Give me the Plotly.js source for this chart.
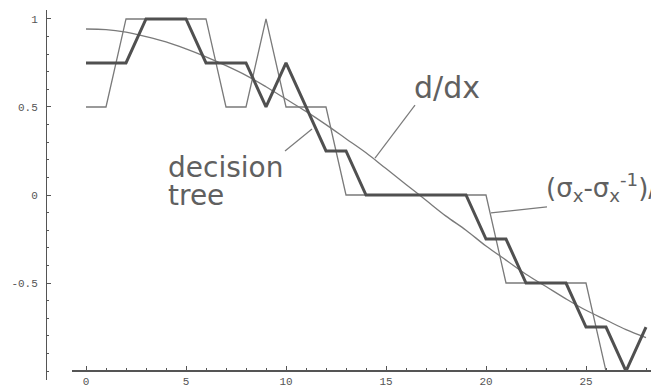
<!DOCTYPE html>
<html>
<head>
<meta charset="utf-8">
<script src="https://cdn.plot.ly/plotly-3.0.1.min.js"></script>
<style>html,body{margin:0;padding:0;background:#fff;}#chart{width:651px;height:389px;}</style>
</head>
<body>
<div id="chart"></div>
<script>
// sample positions
const xs = [0,1,2,3,4,5,6,7,8,9,10,11,12,13,14,15,16,17,18,19,20,21,22,23,24,25,26,27,28];
// decision tree output (thick)
const treeVals = [0.75,0.75,0.75,1,1,1,0.75,0.75,0.75,0.5,0.75,0.5,0.25,0.25,0,0,0,0,0,0,-0.25,-0.25,-0.5,-0.5,-0.5,-0.75,-0.75,-1,-0.75];
// (sigma_x - sigma_x^-1)/2 (thin stepped)
const sigmaVals = [0.5,0.5,1,1,1,1,1,0.5,0.5,1,0.5,0.5,0.5,0,0,0,0,0,0,0,0,-0.5,-0.5,-0.5,-0.5,-0.5,-1,-1,-1];
// d/dx (smooth)
const derivVals = [0.943,0.94,0.925,0.90,0.87,0.83,0.785,0.735,0.68,0.615,0.545,0.475,0.40,0.32,0.24,0.15,0.06,-0.03,-0.12,-0.20,-0.29,-0.37,-0.45,-0.52,-0.59,-0.655,-0.71,-0.765,-0.81];
// tick labels
const xTickVals = [0,5,10,15,20,25];
const xTickText = ["0","5","10","15","20","25"];
const yTickVals = [-0.5,0,0.5,1];
const yTickText = ["-0.5","0","0.5","1"];

const W = 651, H = 389;
const thin = '#7a7a7a', thick = '#505050', txt = '#606060';

const traces = [
  {x: xs, y: sigmaVals, mode: 'lines', line: {color: thin, width: 1.3}, hoverinfo: 'skip'},
  {x: xs, y: derivVals, mode: 'lines', line: {color: thin, width: 1.3, shape: 'spline'}, hoverinfo: 'skip'},
  {x: xs, y: treeVals, mode: 'lines', line: {color: thick, width: 3}, hoverinfo: 'skip'}
];

const labelFont = {family: 'DejaVu Sans', color: txt};

const layout = {
  width: W, height: H,
  margin: {l: 0, r: 0, t: 10, b: 9, pad: 0},
  paper_bgcolor: '#fff', plot_bgcolor: '#fff',
  showlegend: false,
  xaxis: {
    domain: [72/W, 1], range: [-0.7, 28.25],
    anchor: 'free', position: 0.0257,
    showline: true, linecolor: '#555', linewidth: 1.2,
    showgrid: false, zeroline: false,
    ticks: 'inside', ticklen: 4, tickwidth: 1, tickcolor: '#555',
    tickvals: xTickVals, ticktext: xTickText,
    ticklabelstandoff: 0,
    minor: {dtick: 1, tick0: 0, ticks: 'inside', ticklen: 2, tickcolor: '#555', showgrid: false},
    tickfont: {family: 'Liberation Mono', size: 11, color: '#555'}
  },
  yaxis: {
    domain: [0, 1], range: [-1.051, 1.051],
    anchor: 'free', position: 46/W,
    showline: true, linecolor: '#555', linewidth: 1.2,
    showgrid: false, zeroline: false,
    ticks: 'inside', ticklen: 4, tickwidth: 1, tickcolor: '#555',
    tickvals: yTickVals, ticktext: yTickText,
    ticklabelstandoff: 6,
    minor: {dtick: 0.1, tick0: 0, ticks: 'inside', ticklen: 2, tickcolor: '#555', showgrid: false},
    tickfont: {family: 'Liberation Mono', size: 11, color: '#555'}
  },
  annotations: [
    {text: 'decision', x: 4.0, y: 0.157, xref: 'x', yref: 'y', xanchor: 'left', yanchor: 'middle', showarrow: false, font: Object.assign({size: 28}, labelFont)},
    {text: 'tree', x: 4.0, y: -0.002, xref: 'x', yref: 'y', xanchor: 'left', yanchor: 'middle', showarrow: false, font: Object.assign({size: 28}, labelFont)},
    {text: 'd/dx', x: 16.3, y: 0.61, xref: 'x', yref: 'y', xanchor: 'left', yanchor: 'middle', showarrow: false, font: Object.assign({size: 30}, labelFont)},
    {text: '(σ<sub>x</sub>-σ<sub>x</sub><sup>-1</sup>)/2', x: 22.9, y: 0.04, xref: 'x', yref: 'y', xanchor: 'left', yanchor: 'middle', showarrow: false, font: Object.assign({size: 26}, labelFont)}
  ],
  shapes: [
    {type: 'line', xref: 'x', yref: 'y', x0: 9.95, y0: 0.25, x1: 11.3, y1: 0.375, line: {color: thin, width: 1.2}},
    {type: 'line', xref: 'x', yref: 'y', x0: 14.45, y0: 0.21, x1: 16.45, y1: 0.511, line: {color: thin, width: 1.2}},
    {type: 'line', xref: 'x', yref: 'y', x0: 20.25, y0: -0.102, x1: 23.05, y1: -0.068, line: {color: thin, width: 1.2}}
  ]
};

Plotly.newPlot('chart', traces, layout, {staticPlot: true, displayModeBar: false});
</script>
</body>
</html>
